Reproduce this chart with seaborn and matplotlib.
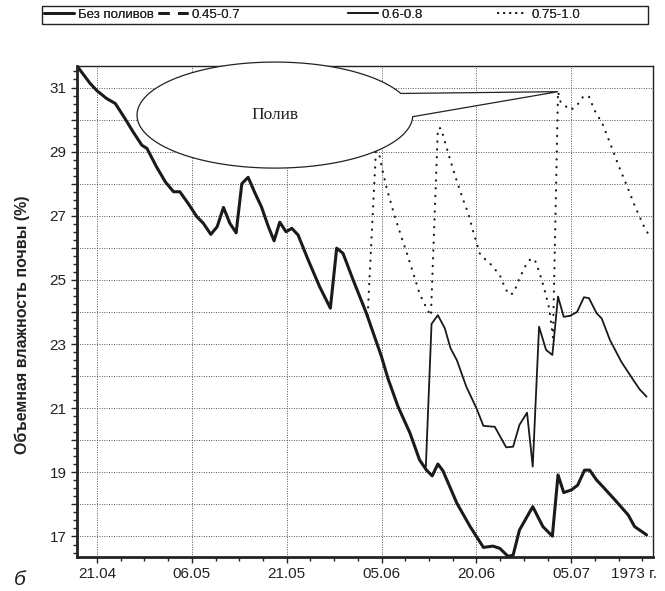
import numpy as np
import pandas as pd
import matplotlib
matplotlib.use("Agg")
import matplotlib.pyplot as plt
import seaborn as sns
from matplotlib.lines import Line2D
from matplotlib.patches import Polygon, Rectangle
from matplotlib.ticker import MultipleLocator

# Дни от 21.04.1973
tick_days = [0, 15, 30, 45, 60, 75]
tick_labels = ["21.04", "06.05", "21.05", "05.06", "20.06", "05.07"]

# Без поливов
dni_bez = [-3.0, -1.1, 0.0, 1.5, 2.9, 4.4, 5.7, 7.1, 7.9, 9.4, 10.8, 12.1, 13.1, 14.4,
           15.8, 16.8, 18.0, 19.0, 20.0, 21.0, 22.0, 22.9, 23.9, 25.0, 26.0, 27.1, 28.0,
           28.9, 29.9, 30.8, 31.8, 33.4, 35.2, 36.9, 37.9, 38.9, 40.5, 42.6, 45.0, 46.0,
           47.6, 49.5, 51.0, 52.1, 53.0, 53.9, 54.7, 56.9, 59.0, 61.1, 62.6, 63.7, 65.0,
           65.8, 66.8, 68.9, 70.5, 72.0, 72.9, 73.8, 75.0, 76.0, 77.1, 77.9, 79.0, 80.0,
           81.9, 84.0, 85.0, 86.9]
vl_bez = [31.63, 31.13, 30.90, 30.66, 30.50, 30.04, 29.62, 29.20, 29.10, 28.53, 28.06,
          27.75, 27.75, 27.39, 26.97, 26.77, 26.42, 26.66, 27.26, 26.77, 26.47, 28.00,
          28.20, 27.70, 27.28, 26.66, 26.22, 26.80, 26.50, 26.61, 26.40, 25.62, 24.79,
          24.12, 25.99, 25.83, 25.00, 23.96, 22.60, 21.93, 21.05, 20.22, 19.39, 19.07,
          18.89, 19.26, 19.05, 18.04, 17.31, 16.66, 16.70, 16.63, 16.38, 16.42, 17.20,
          17.93, 17.31, 17.01, 18.92, 18.37, 18.45, 18.60, 19.07, 19.07, 18.76, 18.55,
          18.14, 17.67, 17.31, 17.05]

# 0.6-0.8
dni_sred = [52.0, 52.9, 53.9, 55.0, 55.9, 56.9, 58.4, 60.0, 61.1, 62.9, 64.7, 65.8, 66.8,
            68.0, 68.9, 69.9, 71.0, 72.0, 72.9, 73.8, 74.8, 75.9, 77.0, 77.8, 79.0, 79.8,
            81.1, 82.9, 84.8, 85.8, 86.9]
vl_sred = [19.18, 23.63, 23.90, 23.49, 22.87, 22.50, 21.67, 21.00, 20.45, 20.42, 19.78,
           19.80, 20.48, 20.86, 19.18, 23.54, 22.82, 22.66, 24.48, 23.85, 23.88, 24.00,
           24.46, 24.43, 23.96, 23.80, 23.13, 22.45, 21.88, 21.59, 21.36]

# 0.75-1.0
dni_vys = [42.8, 44.2, 44.8, 45.2, 45.8, 47.1, 48.2, 49.0, 50.0, 51.0, 52.1, 52.8, 53.9,
           54.4, 55.0, 55.7, 56.7, 57.8, 58.7, 59.6, 60.6, 62.2, 63.7, 64.6, 65.3, 65.9,
           66.8, 67.9, 68.6, 69.2, 70.0, 70.7, 71.5, 72.1, 72.9, 73.3, 74.8, 75.7, 77.0,
           77.8, 78.7, 79.9, 81.2, 82.5, 83.8, 85.1, 86.5, 87.5]
vl_vys = [23.90, 29.40, 28.74, 28.37, 27.86, 26.97, 26.30, 25.83, 25.21, 24.58, 24.12,
          23.88, 29.73, 29.73, 29.31, 28.84, 28.20, 27.55, 27.08, 26.43, 25.78, 25.50,
          25.15, 24.71, 24.53, 24.60, 25.05, 25.50, 25.66, 25.64, 25.21, 24.74, 24.12,
          23.20, 30.87, 30.55, 30.30, 30.39, 30.75, 30.71, 30.28, 29.88, 29.23, 28.55,
          27.93, 27.28, 26.66, 26.32]

serii = ["Без поливов", "0.45-0.7", "0.6-0.8", "0.75-1.0"]

sns.set_style("ticks")
plt.rcParams['font.family'] = ['Liberation Sans', 'DejaVu Sans']

fig = plt.figure(figsize=(6.65, 5.91), dpi=100)
ax = fig.add_axes([0.1158, 0.0575, 0.866, 0.8308])

sns.lineplot(x=dni_bez, y=vl_bez, ax=ax, color="#1a1a1a", lw=2.2, sort=False)
sns.lineplot(x=dni_sred, y=vl_sred, ax=ax, color="#1a1a1a", lw=1.3, sort=False)
sns.lineplot(x=dni_vys, y=vl_vys, ax=ax, color="#1a1a1a", lw=1.6, sort=False,
             linestyle=(0, (0.1, 3.4)), dash_capstyle="round")

ax.set_xlim(-3.16, 87.9)
ax.set_ylim(16.36, 31.67)

ax.set_xticks(tick_days)
ax.set_xticklabels(tick_labels)
ax.xaxis.set_minor_locator(MultipleLocator(3.75))
ax.set_yticks(range(17, 32))
ax.set_yticklabels([str(v) if v % 2 else "" for v in range(17, 32)])
ax.yaxis.set_minor_locator(MultipleLocator(0.25))
ax.tick_params(which="both", direction="out", width=1, color="#222", labelsize=11,
               labelcolor="#222")
ax.tick_params(which="major", length=4)
ax.tick_params(which="minor", length=3)
ax.grid(True, which="major", linestyle=(0, (1, 1.5)), linewidth=0.7, color="#555")

for s in ["left", "bottom"]:
    ax.spines[s].set_linewidth(2)
for s in ["top", "right"]:
    ax.spines[s].set_linewidth(1)
for s in ax.spines.values():
    s.set_color("#222")

ax.set_xlabel("")
ax.set_ylabel("")
fig.text(0.033, 0.45, "Объемная влажность почвы (%)", rotation=90, ha="center",
         va="center", fontsize=11.5, fontweight="bold", color="#222")
ax.annotate("1973 г.", xy=(84.9, 0), xycoords=("data", "axes fraction"),
            xytext=(0, -7.5), textcoords="offset points", ha="center", va="top",
            fontsize=11, color="#222")
fig.text(0.03, 0.02, "б", fontsize=15, style="italic", ha="center", va="center",
         color="#222")

# выноска "Полив"
cx, cy, rx, ry = 28.13, 30.14, 21.8, 1.653
tt = np.linspace(0.42, 2 * np.pi - 0.03, 200)
pts = [(72.9, 30.87)] + [(cx + rx * np.cos(t), cy + ry * np.sin(t)) for t in tt]
ax.add_patch(Polygon(pts, closed=True, facecolor="white", edgecolor="#222",
                     lw=0.9, zorder=5, clip_on=False))
ax.text(cx, cy, "Полив", fontsize=12.5, family=["Liberation Serif", "DejaVu Serif"],
        ha="center", va="center", zorder=6, color="#222")

# легенда в рамке
fig.add_artist(Rectangle((42 / 665, 1 - 24 / 591), 606 / 665, 18 / 591,
                         transform=fig.transFigure, facecolor="white",
                         edgecolor="#222", lw=1))
handles = [
    Line2D([], [], color="#1a1a1a", lw=2),
    Line2D([], [], color="#1a1a1a", lw=2, linestyle=(0, (4, 3, 4, 3, 1, 3))),
    Line2D([], [], color="#1a1a1a", lw=1.3),
    Line2D([], [], color="#1a1a1a", lw=1.5, linestyle=(0, (0.1, 2.8)),
           dash_capstyle="round"),
]
leg_x = [44, 158, 348, 498]
for h, name, x0 in zip(handles, serii, leg_x):
    lg = fig.legend([h], [name], loc="center left",
                    bbox_to_anchor=(x0 / 665, 1 - 15 / 591), fontsize=9.5,
                    frameon=False, handlelength=2.3, handletextpad=0.25,
                    borderpad=0, borderaxespad=0)
    fig.add_artist(lg)

fig.savefig("out.png", dpi=100)
